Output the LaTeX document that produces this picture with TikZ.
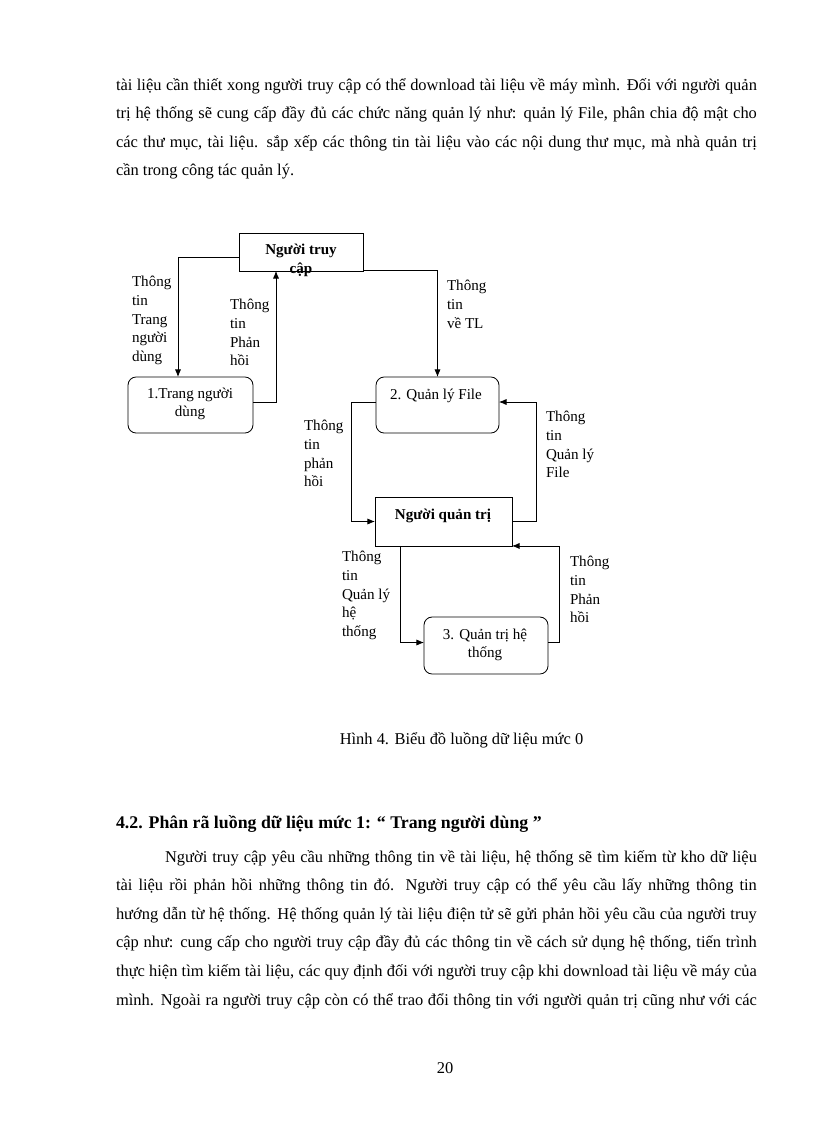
\documentclass[tikz,border=0pt]{standalone}
\usepackage{fontspec}
\setmainfont{Liberation Serif}
\usetikzlibrary{arrows.meta,calc}
\hyphenpenalty=10000
\tolerance=9999

\begin{document}
\begin{tikzpicture}[-,>={Latex[length=5.5pt,width=4.5pt]},semithick,x=0.7296pt,y=-0.7296pt]
  \tikzstyle{every node}=[inner sep=0pt,outer sep=0pt]
  \tikzstyle{box}=[draw,minimum width=90.5pt,minimum height=27.7pt]
  \tikzstyle{rbox}=[draw,rounded corners=6pt,minimum width=90.5pt,minimum height=40.9pt]
  \tikzstyle{lbl}=[anchor=north west,align=left,font=\fontsize{11}{13.6}\selectfont,
                   execute at begin node={\rule{0pt}{10pt}}]
  \tikzstyle{boxtext}=[anchor=north,align=center,font=\fontsize{11}{13.6}\selectfont,
                   execute at begin node={\rule{0pt}{10pt}}]
  \tikzstyle{para}=[anchor=north west,text width=467.6pt,align=justify,
                   font=\fontsize{12}{20.9}\selectfont,
                   execute at begin node={\noindent\rule{0pt}{13pt}}]

  \useasboundingbox (0,0) rectangle (816,1123);

  % text before the figure
  \node[para] (p1) at (116,72.2) {tài liệu cần thiết xong người truy cập có thể download tài liệu về máy mình. Đối với người quản\linebreak
    trị hệ thống sẽ cung cấp đầy đủ các chức năng quản lý như: quản lý File, phân chia độ mật cho\linebreak
    các thư mục, tài liệu. sắp xếp các thông tin tài liệu vào các nội dung thư mục, mà nhà quản trị\linebreak
    cần trong công tác quản lý.};

  % boxes
  \node[box] (ntc) at (301,252) {};
  \node[rbox,minimum width=91.2pt] (trang) at (190.5,405) {};
  \node[rbox,minimum width=89.7pt] (file) at (437.5,405) {};
  \node[box,minimum width=100pt,minimum height=35.7pt] (nqt) at (443.5,521.5) {};
  \node[rbox,minimum height=41.6pt] (hethong) at (486,645.5) {};

  \node[boxtext,font=\fontsize{11}{13.6}\selectfont\bfseries] (ntc-t) at (301,244.3) {Người truy\\cập};
  \node[boxtext] (trang-t) at (190,387.8) {1.Trang người\\dùng};
  \node[boxtext] (file-t) at (436,385.3) {2. Quản lý File};
  \node[boxtext,font=\fontsize{11}{13.6}\selectfont\bfseries] (nqt-t) at (443,505.8) {Người quản trị};
  \node[boxtext] (hethong-t) at (485,628.8) {3. Quản trị hệ\\thống};

  % flows
  \draw[->] ($(ntc.west)+(0,5)$) -| ($(trang.north)+(-12.5,0)$);
  \draw[->] ($(trang.east)+(0,-3)$) -| ($(ntc.south)+(-25,0)$);
  \draw[->] ($(ntc.east)+(0,18)$) -| (file.north);
  \draw[->] ($(file.west)+(0,-3)$) -- ++(-25,0) |- (nqt.west);
  \draw[->] (nqt.east) -- ++(24,0) |- ($(file.east)+(0,-3)$);
  \draw[->] ($(nqt.south)+(-43.5,0)$) |- ($(hethong.west)+(0,-3)$);
  \draw[->] ($(hethong.east)+(0,-3)$) -- ++(11,0) |- (nqt.south east);

  \node[lbl] (l-trang) at (132,276.3) {Thông\\tin\\Trang\\người\\dùng};
  \node[lbl] (l-ph1) at (230,299.3) {Thông\\tin\\Phản\\hồi};
  \node[lbl] (l-tl) at (447,280.3) {Thông\\tin\\về TL};
  \node[lbl] (l-ph2) at (304,420.3) {Thông\\tin\\phản\\hồi};
  \node[lbl] (l-qlf) at (546,411.3) {Thông\\tin\\Quản lý\\File};
  \node[lbl] (l-qlht) at (342,551.3) {Thông\\tin\\Quản lý\\hệ\\thống};
  \node[lbl] (l-ph3) at (570,556.3) {Thông\\tin\\Phản\\hồi};

  \node[anchor=base,font=\fontsize{12}{14}\selectfont] (cap) at (461.5,744) {Hình 4. Biểu đồ luồng dữ liệu mức 0};

  % section 4.2
  \node[anchor=base west,font=\fontsize{13}{15}\selectfont\bfseries] (h42) at (116,828) {4.2. Phân rã luồng dữ liệu mức 1: “ Trang người dùng ”};
  \node[para] (p2) at (116,844.2) {\hspace*{35.8pt}Người truy cập yêu cầu những thông tin về tài liệu, hệ thống sẽ tìm kiếm từ kho dữ liệu\linebreak
    tài liệu rồi phản hồi những thông tin đó. Người truy cập có thể yêu cầu lấy những thông tin\linebreak
    hướng dẫn từ hệ thống. Hệ thống quản lý tài liệu điện tử sẽ gửi phản hồi yêu cầu của người truy\linebreak
    cập như: cung cấp cho người truy cập đầy đủ các thông tin về cách sử dụng hệ thống, tiến trình\linebreak
    thực hiện tìm kiếm tài liệu, các quy định đối với người truy cập khi download tài liệu về máy của\linebreak
    mình. Ngoài ra người truy cập còn có thể trao đổi thông tin với người quản trị cũng như với các\parfillskip=0pt\par};

  \node[anchor=base,font=\fontsize{12}{14}\selectfont] (pg) at (445,1073) {20};
\end{tikzpicture}
\end{document}
